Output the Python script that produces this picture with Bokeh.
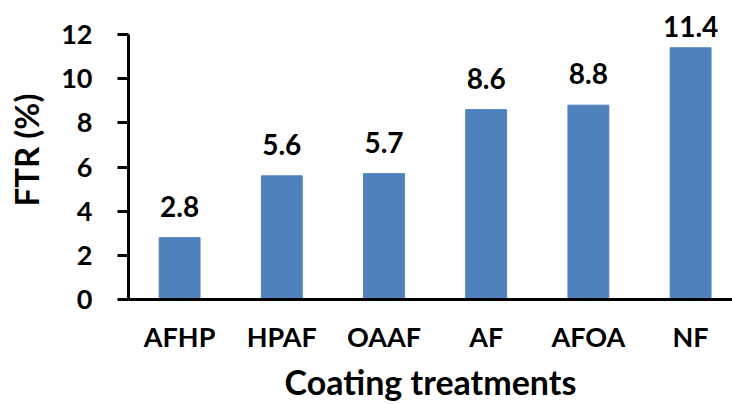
from bokeh.plotting import figure
from bokeh.models import ColumnDataSource, Range1d, FixedTicker, LabelSet
from bokeh.core.properties import value
from bokeh.embed import file_html
from bokeh.resources import INLINE

# Fruit treatment results per coating
treatments = ["AFHP", "HPAF", "OAAF", "AF", "AFOA", "NF"]
ftr = [2.8, 5.6, 5.7, 8.6, 8.8, 11.4]
y_ticks = [0, 2, 4, 6, 8, 10, 12]

W, H = 732, 404
LEFT, BOTTOM = 128, 105
AXIS_TOP_PX = 34          # screen row of the 12 tick
Y_MAX = 12
FONT = "Lato"

frame_h = H - BOTTOM
px_per_unit = (frame_h - AXIS_TOP_PX) / Y_MAX
y_end = Y_MAX + AXIS_TOP_PX / px_per_unit   # headroom above the axis for labels

pos = list(range(len(treatments)))
# value labels sit ~21px above each bar, nudged down when close to the axis top
offsets = [min(21.0, (Y_MAX - v) * px_per_unit - 2) for v in ftr]
src = ColumnDataSource(dict(
    x=pos, ftr=ftr, label=[f"{v:.1f}" for v in ftr], off=offsets,
))

p = figure(width=W, height=H, output_backend="svg", toolbar_location=None,
           x_range=Range1d(-0.5, 5.41), y_range=Range1d(0, y_end),
           min_border_left=LEFT, min_border_right=0,
           min_border_top=0, min_border_bottom=BOTTOM)
p.outline_line_color = None
p.background_fill_color = "white"
p.border_fill_color = "white"
p.xgrid.visible = False
p.ygrid.visible = False

p.vbar(x="x", top="ftr", width=0.4, source=src,
       fill_color="#4F81BD", line_color="#4F81BD")

labels = LabelSet(x="x", y="ftr", text="label", y_offset="off", source=src,
                  text_align="center", text_baseline="alphabetic",
                  text_font=value(FONT), text_font_style="bold",
                  text_font_size="28px", text_color="black")
p.add_layout(labels)

# y axis
ya = p.yaxis[0]
ya.ticker = FixedTicker(ticks=y_ticks)
ya.bounds = (0, Y_MAX)
ya.axis_line_width = 3
ya.axis_line_color = "black"
ya.major_tick_line_width = 3
ya.major_tick_line_color = "black"
ya.major_tick_out = 11
ya.major_tick_in = 0
ya.minor_tick_out = 0
ya.minor_tick_in = 0
ya.major_label_text_font = FONT
ya.major_label_text_font_style = "bold"
ya.major_label_text_font_size = "27px"
ya.major_label_text_color = "black"
ya.major_label_standoff = 25
ya.axis_label = "FTR (%)"
ya.axis_label_text_font = FONT
ya.axis_label_text_font_style = "bold"
ya.axis_label_text_font_size = "33px"
ya.axis_label_text_color = "black"
ya.axis_label_standoff = 12

# x axis
xa = p.xaxis[0]
xa.ticker = FixedTicker(ticks=pos)
xa.major_label_overrides = {i: t for i, t in zip(pos, treatments)}
xa.axis_line_width = 3
xa.axis_line_color = "black"
xa.major_tick_out = 0
xa.major_tick_in = 0
xa.minor_tick_out = 0
xa.minor_tick_in = 0
xa.major_label_text_font = FONT
xa.major_label_text_font_style = "bold"
xa.major_label_text_font_size = "27px"
xa.major_label_text_color = "black"
xa.major_label_standoff = 20
xa.axis_label = "Coating treatments"
xa.axis_label_text_font = FONT
xa.axis_label_text_font_style = "bold"
xa.axis_label_text_font_size = "34px"
xa.axis_label_text_color = "black"
xa.axis_label_standoff = 5

open("out.html", "w").write(file_html(p, INLINE))
